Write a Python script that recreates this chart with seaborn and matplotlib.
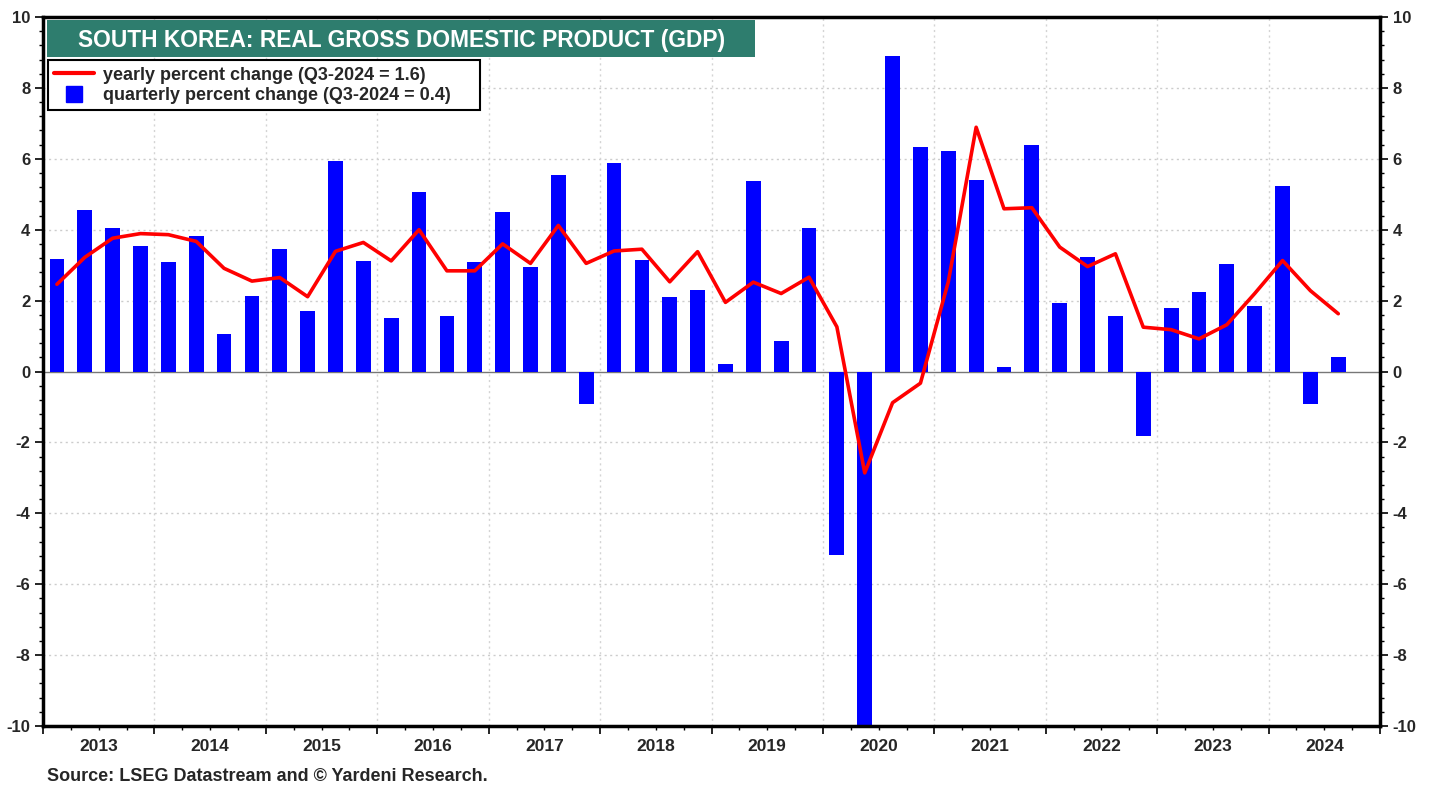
import matplotlib
matplotlib.use("Agg")
import matplotlib.pyplot as plt
import matplotlib.ticker as mticker
from matplotlib.lines import Line2D
from matplotlib.patches import Rectangle
import pandas as pd
import seaborn as sns

# quarterly data, Q1-2013 .. Q3-2024
first_quarter = "2013Q1"
last_quarter = "2024Q3"

# quarterly percent change (annualized)
qoq = [3.18, 4.55, 4.04, 3.53, 3.08, 3.81, 1.05, 2.13, 3.46, 1.71,
       5.95, 3.12, 1.52, 5.06, 1.56, 3.10, 4.49, 2.96, 5.55, -0.92,
       5.87, 3.15, 2.10, 2.29, 0.21, 5.36, 0.86, 4.04, -5.18, -12.1,
       8.89, 6.34, 6.21, 5.41, 0.12, 6.40, 1.94, 3.22, 1.56, -1.82,
       1.78, 2.23, 3.03, 1.85, 5.22, -0.92, 0.40]

# yearly percent change
yoy = [2.46, 3.22, 3.76, 3.89, 3.86, 3.67, 2.91, 2.55, 2.65, 2.11,
       3.39, 3.64, 3.12, 4.00, 2.84, 2.84, 3.60, 3.05, 4.12, 3.05,
       3.40, 3.45, 2.53, 3.38, 1.95, 2.52, 2.20, 2.66, 1.26, -2.86,
       -0.88, -0.33, 2.53, 6.89, 4.59, 4.62, 3.51, 2.96, 3.32, 1.25,
       1.18, 0.92, 1.32, 2.20, 3.13, 2.28, 1.63]

years = list(range(2013, 2025))

title = "SOUTH KOREA: REAL GROSS DOMESTIC PRODUCT (GDP)"
line_label = "yearly percent change (Q3-2024 = 1.6)"
bar_label = "quarterly percent change (Q3-2024 = 0.4)"
source = "Source: LSEG Datastream and \u00a9 Yardeni Research."

periods = pd.period_range(first_quarter, last_quarter, freq="Q")
df = pd.DataFrame({
    "x": periods.year + (periods.quarter - 0.5) / 4,
    "qoq": qoq,
    "yoy": yoy,
})

sns.set_style("white")
plt.rcParams["font.family"] = ["Liberation Sans", "DejaVu Sans"]
plt.rcParams["font.weight"] = "bold"

fig = plt.figure(figsize=(14.38, 7.87), dpi=100)
ax = fig.add_axes([0.0299, 0.0775, 0.9298, 0.9009])

sns.barplot(data=df, x="x", y="qoq", native_scale=True, width=0.53,
            color="#0000ff", saturation=1, errorbar=None, linewidth=0,
            ax=ax, zorder=2)
sns.lineplot(data=df, x="x", y="yoy", color="#ff0000", lw=2.6, ax=ax, zorder=3)

ax.set_xlim(2013, 2025)
ax.set_ylim(-10, 10)
ax.set_xlabel("")
ax.set_ylabel("")

# grid + zero line
ax.axhline(0, color="#777777", lw=1, zorder=1)
for yv in range(-8, 10, 2):
    if yv != 0:
        ax.axhline(yv, color="#cccccc", lw=1, ls=(0, (1.5, 2.5)), zorder=0)
for yr in years[1:]:
    ax.axvline(yr, color="#d4d4d4", lw=1, ls=(0, (1.5, 2.5)), zorder=0)

# x ticks: year boundaries (major), quarters (minor), labels mid-year
ax.xaxis.set_major_locator(mticker.FixedLocator(years + [2025]))
ax.xaxis.set_major_formatter(mticker.NullFormatter())
ax.xaxis.set_minor_locator(mticker.MultipleLocator(0.25))
ax.tick_params(axis="x", which="major", direction="out", length=6, width=1.2, color="black", bottom=True)
ax.tick_params(axis="x", which="minor", direction="out", length=3, width=1, color="black", bottom=True)

sec = ax.secondary_xaxis("bottom")
sec.set_xticks([y + 0.5 for y in years], [str(y) for y in years])
sec.tick_params(length=0, labelsize=12.5, pad=9)
for lab in sec.get_xticklabels():
    lab.set_fontweight("bold")
sec.spines["bottom"].set_visible(False)

# y ticks both sides
ax.yaxis.set_major_locator(mticker.MultipleLocator(2))
ax.yaxis.set_minor_locator(mticker.MultipleLocator(0.4))
ax.yaxis.set_major_formatter(mticker.FormatStrFormatter("%d"))
ax.tick_params(axis="y", which="both", left=True, right=True, labelleft=True,
               labelright=True, direction="out", color="black")
ax.tick_params(axis="y", which="major", length=6, width=1.2, labelsize=12, pad=3)
ax.tick_params(axis="y", which="minor", length=3, width=1)
for lab in ax.get_yticklabels():
    lab.set_fontweight("bold")

for sp in ax.spines.values():
    sp.set_visible(True)
    sp.set_color("black")
    sp.set_linewidth(2.5)

# title banner
ax.add_patch(Rectangle((0.003, 0.9436), 0.5295, 0.0522, transform=ax.transAxes,
                       facecolor="#2e7d6e", edgecolor="none", zorder=5, clip_on=False))
ax.text(0.268, 0.9675, title, transform=ax.transAxes, ha="center", va="center",
        color="white", fontsize=16.4, fontweight="bold", zorder=6)

# legend (fixed width box like the original)
handles = [
    Line2D([], [], color="#ff0000", lw=3),
    Line2D([], [], color="#0000ff", marker="s", ms=11, ls="none"),
]
leg = ax.legend(handles, [line_label, bar_label], loc="upper left",
                bbox_to_anchor=(0.0037, 0.869, 0.323, 0.07), mode="expand",
                borderaxespad=0, fancybox=False,
                framealpha=1, edgecolor="black", prop={"size": 13, "weight": "bold"},
                handlelength=2.2, handletextpad=0.5, labelspacing=0.2,
                borderpad=0.35)
leg.get_frame().set_linewidth(1.5)
leg.set_zorder(6)

fig.text(0.033, 0.003, source, fontsize=13, fontweight="bold", ha="left", va="bottom")

fig.savefig("out.png", dpi=100)
